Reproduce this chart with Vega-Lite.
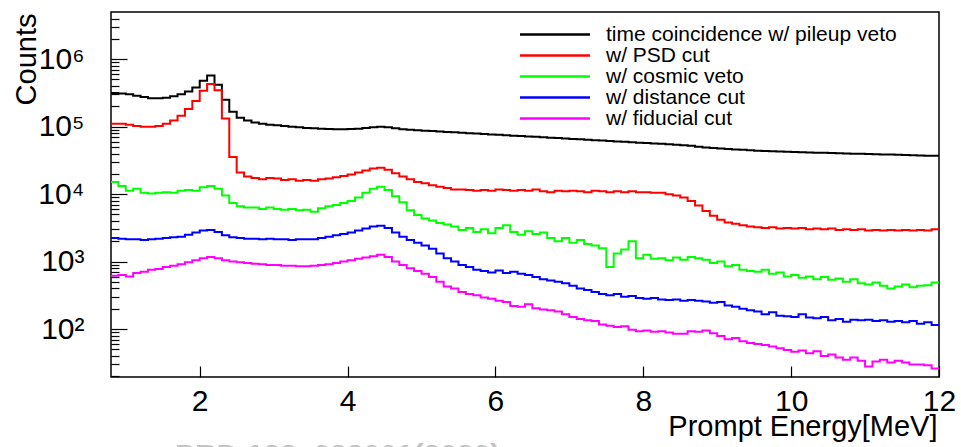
{
"$schema": "https://vega.github.io/schema/vega-lite/v6.json",
"width": 828, "height": 365,
"autosize": "none",
"padding": {"left": 111, "top": 12, "right": 22, "bottom": 70},
"background": "white",
"config": {"view": {"stroke": "#000", "strokeWidth": 1.5}, "font": "Liberation Sans"},
"title": {"text": "PRD 123, 032001(2020)", "orient": "bottom", "anchor": "start", "frame": "group", "dx": 64, "offset": 0, "color": "#c4c4c4", "fontSize": 30, "fontWeight": "bold", "font": "Liberation Sans"},
"data": {"values": [
{"E":0.8,"a":316000,"b":110000,"c":15100,"d":2240,"e":617},
{"E":0.9,"a":309000,"b":110000,"c":13200,"d":2190,"e":631},
{"E":1.0,"a":302000,"b":107000,"c":11200,"d":2140,"e":603},
{"E":1.1,"a":288000,"b":102000,"c":12000,"d":2140,"e":676},
{"E":1.2,"a":275000,"b":100000,"c":10500,"d":2090,"e":708},
{"E":1.3,"a":263000,"b":100000,"c":10200,"d":2140,"e":759},
{"E":1.4,"a":263000,"b":102000,"c":10500,"d":2190,"e":776},
{"E":1.5,"a":269000,"b":110000,"c":10700,"d":2240,"e":832},
{"E":1.6,"a":282000,"b":123000,"c":10500,"d":2290,"e":871},
{"E":1.7,"a":302000,"b":145000,"c":11200,"d":2340,"e":912},
{"E":1.8,"a":331000,"b":182000,"c":11500,"d":2510,"e":977},
{"E":1.9,"a":380000,"b":240000,"c":11200,"d":2690,"e":1050},
{"E":2.0,"a":479000,"b":339000,"c":12600,"d":2880,"e":1120},
{"E":2.1,"a":575000,"b":427000,"c":13200,"d":2950,"e":1170},
{"E":2.2,"a":417000,"b":347000,"c":12000,"d":2750,"e":1120},
{"E":2.3,"a":251000,"b":132000,"c":9550,"d":2450,"e":1050},
{"E":2.4,"a":166000,"b":35500,"c":7410,"d":2290,"e":1000},
{"E":2.5,"a":135000,"b":20900,"c":6610,"d":2240,"e":977},
{"E":2.6,"a":123000,"b":18200,"c":6310,"d":2190,"e":955},
{"E":2.7,"a":115000,"b":17400,"c":6310,"d":2190,"e":933},
{"E":2.8,"a":110000,"b":16600,"c":6030,"d":2140,"e":912},
{"E":2.9,"a":107000,"b":17400,"c":6310,"d":2190,"e":891},
{"E":3.0,"a":105000,"b":17000,"c":6030,"d":2140,"e":891},
{"E":3.1,"a":102000,"b":16200,"c":5890,"d":2140,"e":871},
{"E":3.2,"a":100000,"b":16600,"c":6030,"d":2090,"e":871},
{"E":3.3,"a":97700,"b":15800,"c":5750,"d":2140,"e":851},
{"E":3.4,"a":95500,"b":16200,"c":5890,"d":2140,"e":851},
{"E":3.5,"a":94400,"b":15800,"c":5500,"d":2140,"e":871},
{"E":3.6,"a":93300,"b":16600,"c":6170,"d":2240,"e":891},
{"E":3.7,"a":92300,"b":17000,"c":6610,"d":2340,"e":912},
{"E":3.8,"a":91200,"b":17800,"c":6920,"d":2450,"e":955},
{"E":3.9,"a":91200,"b":18600,"c":7410,"d":2570,"e":1000},
{"E":4.0,"a":92300,"b":19500,"c":7940,"d":2690,"e":1050},
{"E":4.1,"a":93300,"b":20900,"c":8910,"d":2880,"e":1100},
{"E":4.2,"a":95500,"b":22400,"c":10500,"d":3090,"e":1150},
{"E":4.3,"a":97700,"b":24000,"c":12000,"d":3310,"e":1200},
{"E":4.4,"a":100000,"b":24500,"c":12900,"d":3390,"e":1260},
{"E":4.5,"a":97700,"b":22900,"c":11500,"d":3160,"e":1170},
{"E":4.6,"a":94400,"b":20400,"c":9330,"d":2690,"e":1000},
{"E":4.7,"a":91200,"b":18200,"c":7590,"d":2340,"e":891},
{"E":4.8,"a":90200,"b":16600,"c":5750,"d":2090,"e":794},
{"E":4.9,"a":88100,"b":15100,"c":4900,"d":1910,"e":724},
{"E":5.0,"a":87100,"b":14500,"c":4370,"d":1740,"e":661},
{"E":5.1,"a":85900,"b":13500,"c":4070,"d":1550,"e":589},
{"E":5.2,"a":84700,"b":12900,"c":3720,"d":1320,"e":501},
{"E":5.3,"a":83600,"b":12300,"c":3550,"d":1120,"e":427},
{"E":5.4,"a":82400,"b":11700,"c":3310,"d":1000,"e":398},
{"E":5.5,"a":81300,"b":11700,"c":2950,"d":891,"e":355},
{"E":5.6,"a":80000,"b":11500,"c":3160,"d":832,"e":331},
{"E":5.7,"a":78900,"b":11200,"c":2750,"d":759,"e":316},
{"E":5.8,"a":77800,"b":11500,"c":3020,"d":724,"e":295},
{"E":5.9,"a":76700,"b":11200,"c":2630,"d":692,"e":282},
{"E":6.0,"a":75700,"b":11700,"c":3160,"d":741,"e":263},
{"E":6.1,"a":74600,"b":11500,"c":3470,"d":676,"e":251},
{"E":6.2,"a":73600,"b":11200,"c":2750,"d":708,"e":219},
{"E":6.3,"a":72600,"b":11500,"c":2510,"d":661,"e":214},
{"E":6.4,"a":71600,"b":11200,"c":2820,"d":631,"e":234},
{"E":6.5,"a":70600,"b":11700,"c":2570,"d":589,"e":204},
{"E":6.6,"a":69500,"b":11000,"c":2690,"d":550,"e":195},
{"E":6.7,"a":68500,"b":10700,"c":2240,"d":525,"e":191},
{"E":6.8,"a":67600,"b":11200,"c":2000,"d":501,"e":182},
{"E":6.9,"a":66700,"b":11000,"c":2240,"d":479,"e":166},
{"E":7.0,"a":65800,"b":11200,"c":1910,"d":437,"e":151},
{"E":7.1,"a":64900,"b":11000,"c":2090,"d":398,"e":141},
{"E":7.2,"a":64000,"b":10700,"c":1820,"d":380,"e":135},
{"E":7.3,"a":63100,"b":11200,"c":1740,"d":355,"e":132},
{"E":7.4,"a":62200,"b":11000,"c":1580,"d":331,"e":117},
{"E":7.5,"a":61400,"b":10700,"c":832,"d":316,"e":112},
{"E":7.6,"a":60500,"b":11000,"c":1320,"d":331,"e":107},
{"E":7.7,"a":59600,"b":10700,"c":1510,"d":302,"e":110},
{"E":7.8,"a":58700,"b":11000,"c":2000,"d":309,"e":98},
{"E":7.9,"a":57900,"b":10700,"c":1120,"d":288,"e":93},
{"E":8.0,"a":57100,"b":10700,"c":1260,"d":282,"e":95},
{"E":8.1,"a":56400,"b":10500,"c":1100,"d":288,"e":91},
{"E":8.2,"a":55600,"b":10500,"c":1120,"d":275,"e":93},
{"E":8.3,"a":54800,"b":10000,"c":1050,"d":269,"e":89},
{"E":8.4,"a":54000,"b":9550,"c":1150,"d":275,"e":85},
{"E":8.5,"a":53200,"b":8910,"c":1070,"d":263,"e":85},
{"E":8.6,"a":52000,"b":7940,"c":1170,"d":269,"e":93},
{"E":8.7,"a":50500,"b":6760,"c":1120,"d":263,"e":91},
{"E":8.8,"a":49000,"b":5620,"c":1070,"d":257,"e":95},
{"E":8.9,"a":48100,"b":4790,"c":955,"d":245,"e":87},
{"E":9.0,"a":47300,"b":4170,"c":1000,"d":251,"e":79},
{"E":9.1,"a":46600,"b":3800,"c":851,"d":224,"e":71},
{"E":9.2,"a":45900,"b":3630,"c":891,"d":214,"e":74},
{"E":9.3,"a":45300,"b":3470,"c":759,"d":200,"e":66},
{"E":9.4,"a":44700,"b":3310,"c":724,"d":191,"e":62},
{"E":9.5,"a":44100,"b":3240,"c":708,"d":182,"e":60},
{"E":9.6,"a":43400,"b":3160,"c":759,"d":166,"e":58},
{"E":9.7,"a":43100,"b":3240,"c":661,"d":178,"e":55},
{"E":9.8,"a":42800,"b":3090,"c":692,"d":158,"e":52},
{"E":9.9,"a":42500,"b":3160,"c":603,"d":155,"e":49},
{"E":10.0,"a":42200,"b":3090,"c":631,"d":151,"e":46},
{"E":10.1,"a":41800,"b":3160,"c":575,"d":166,"e":48},
{"E":10.2,"a":41500,"b":3020,"c":603,"d":148,"e":44},
{"E":10.3,"a":41200,"b":3090,"c":550,"d":145,"e":47},
{"E":10.4,"a":40900,"b":3020,"c":589,"d":151,"e":40},
{"E":10.5,"a":40600,"b":3090,"c":537,"d":135,"e":42},
{"E":10.6,"a":40400,"b":2950,"c":562,"d":141,"e":38},
{"E":10.7,"a":40100,"b":3020,"c":501,"d":129,"e":35},
{"E":10.8,"a":39800,"b":2950,"c":550,"d":138,"e":38},
{"E":10.9,"a":39500,"b":3020,"c":479,"d":135,"e":34},
{"E":11.0,"a":39300,"b":2880,"c":457,"d":138,"e":28},
{"E":11.1,"a":39000,"b":2950,"c":490,"d":132,"e":33},
{"E":11.2,"a":38700,"b":2880,"c":437,"d":135,"e":35},
{"E":11.3,"a":38500,"b":2950,"c":398,"d":129,"e":32},
{"E":11.4,"a":38200,"b":2880,"c":427,"d":132,"e":34},
{"E":11.5,"a":37900,"b":2950,"c":457,"d":126,"e":32},
{"E":11.6,"a":37700,"b":2880,"c":417,"d":132,"e":30},
{"E":11.7,"a":37400,"b":2950,"c":437,"d":120,"e":30},
{"E":11.8,"a":37200,"b":2880,"c":447,"d":126,"e":29},
{"E":11.9,"a":36900,"b":3020,"c":490,"d":115,"e":26},
{"E":12.0,"a":36900,"b":3020,"c":490,"d":115,"e":26}
]},
"transform": [{"fold": ["a","b","c","d","e"], "as": ["k","v"]}],
"layer": [
{"mark": {"type": "line", "interpolate": "step-after", "strokeWidth": 2},
 "encoding": {
  "x": {"field": "E", "type": "quantitative",
    "scale": {"domain": [0.8, 12], "nice": false, "zero": false},
    "axis": {"values": [2,4,6,8,10,12], "format": "d", "tickSize": -11, "tickWidth": 1.2, "tickColor": "#000",
      "labelPadding": 20, "labelFontSize": 30, "labelColor": "#000", "labelFont": "Liberation Sans", "labelFlush": false, "labelOverlap": false,
      "domain": false, "grid": false,
      "title": "Prompt Energy[MeV]", "titleFont": "Liberation Sans", "titleFontSize": 29, "titleFontWeight": "normal", "titleColor": "#000",
      "titleX": 826, "titleY": 58, "titleAlign": "right", "titleBaseline": "alphabetic", "titleAnchor": "end"}},
  "y": {"field": "v", "type": "quantitative",
    "scale": {"type": "log", "domain": [19.5, 5000000], "nice": false},
    "axis": {"orient": "left", "values": [100,1000,10000,100000,1000000],
      "labelExpr": "datum.value==100?'10²':datum.value==1000?'10³':datum.value==10000?'10⁴':datum.value==100000?'10⁵':'10⁶'",
      "tickSize": -16, "tickWidth": 1.2, "tickColor": "#000",
      "labelPadding": 43, "labelFontSize": 30, "labelColor": "#000", "labelFont": "Liberation Sans", "labelFlush": false, "labelOverlap": false,
      "domain": false, "grid": false,
      "title": "Counts", "titleFont": "Liberation Sans", "titleFontSize": 29, "titleFontWeight": "normal", "titleColor": "#000",
      "titleAngle": -90, "titleX": -76, "titleY": 1, "titleAlign": "right", "titleBaseline": "alphabetic"}},
  "color": {"field": "k", "type": "nominal",
    "scale": {"domain": ["a","b","c","d","e"], "range": ["#000000","#ff0000","#00ff00","#0000ff","#ff00ff"]},
    "legend": {"orient": "none", "legendX": 406, "legendY": 12, "title": null, "padding": 0,
      "symbolType": "M -1 0 H 8.333", "symbolSize": 225, "symbolStrokeWidth": 2.5,
      "labelFont": "Liberation Sans", "labelFontSize": 21, "labelColor": "#000", "labelOffset": 68, "rowPadding": -2.3,
      "labelLimit": 400,
      "labelExpr": "datum.label=='a'?'time coincidence w/ pileup veto':datum.label=='b'?'w/ PSD cut':datum.label=='c'?'w/ cosmic veto':datum.label=='d'?'w/ distance cut':'w/ fiducial cut'"}}
 }},
{"mark": {"type": "point", "opacity": 0},
 "encoding": {
  "y": {"field": "v", "type": "quantitative",
    "axis": {"orient": "left", "values": [20,30,40,50,60,70,80,90,200,300,400,500,600,700,800,900,2000,3000,4000,5000,6000,7000,8000,9000,20000,30000,40000,50000,60000,70000,80000,90000,200000,300000,400000,500000,600000,700000,800000,900000,2000000,3000000,4000000],
      "labels": false, "tickSize": -8, "tickWidth": 1.2, "tickColor": "#000", "domain": false, "grid": false, "title": null}}
 }}
],
"resolve": {"axis": {"y": "independent"}}
}
